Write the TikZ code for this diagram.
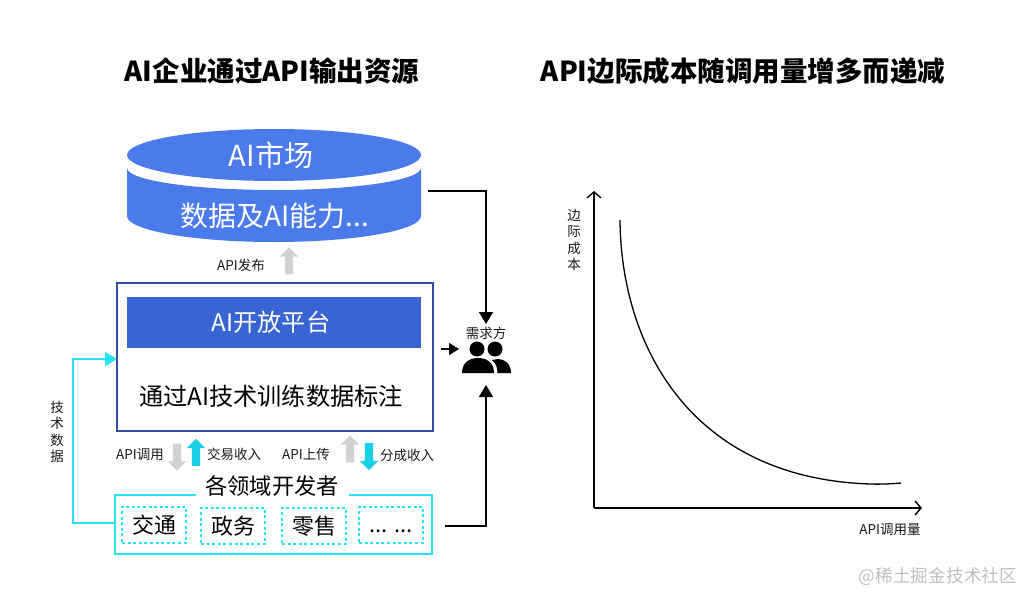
\documentclass[tikz,border=0pt]{standalone}
\usepackage{fontspec}
\setmainfont{Noto Sans CJK SC}
\usetikzlibrary{arrows.meta,shapes.arrows}
\definecolor{cylblue}{HTML}{4B7BEA}
\definecolor{platblue}{HTML}{3865D1}
\definecolor{edgeblue}{HTML}{2F4FA0}
\definecolor{devcyan}{HTML}{25E2F5}
\definecolor{flowcyan}{HTML}{1CCFE8}
\definecolor{flowgray}{HTML}{D2D2D2}
\newcommand{\pxfont}[1]{\fontsize{#1}{#1}\selectfont}
\tikzset{
    title/.style = {font=\pxfont{27.5}\bfseries, inner sep=0pt},
    big/.style = {font=\pxfont{28}, inner sep=0pt, text=white},
    mid/.style = {font=\pxfont{24.2}, inner sep=0pt},
    small/.style = {font=\pxfont{13.5}, inner sep=0pt, text=black!90},
    stacked/.style = {small, align=center, font=\fontsize{13.5}{16.5}\selectfont},
    fieldbox/.style = {draw=devcyan, dash pattern=on 3pt off 2.6pt, line width=1.3pt, minimum width=64pt, minimum height=36pt, inner sep=0pt, font=\pxfont{22}},
    flow/.style = {single arrow, single arrow head extend=5pt, single arrow head indent=0pt, minimum width=18pt, minimum height=27pt, inner sep=4pt, draw=none},
    person/.style = {circle, fill=black, minimum size=15pt, inner sep=0pt},
    link/.style = {line width=1.4pt, -{Triangle[width=14pt,length=12pt]}},
    axisline/.style = {line width=1.4pt, -{Straight Barb[width=14pt,length=6pt,line width=1.4pt]}}
}
\begin{document}
\begin{tikzpicture}[x=1pt, y=-1pt]
    \useasboundingbox (0,0) rectangle (1024,594);

    \node[title] (lefttitle) at (272,71) {AI企业通过API输出资源};
    \node[title] (righttitle) at (743,71) {API边际成本随调用量增多而递减};

    % market cylinder
    \fill[cylblue] (127,168) arc[start angle=180, end angle=0, x radius=147, y radius=22]
        -- (421,216) arc[start angle=0, end angle=180, x radius=147, y radius=26] -- cycle;
    \fill[cylblue] (274,155) ellipse[x radius=147, y radius=26];
    \node[big, font=\pxfont{29}] (market) at (271,155) {AI市场};
    \node[big] (resource) at (275,216) {数据及AI能力...};

    \node[small] (publish) at (241,265) {API发布};
    \node[flow, fill=flowgray, rotate=90] (publisharrow) at (289,263) {};

    % platform
    \node[draw=edgeblue, line width=1.5pt, minimum width=316pt, minimum height=148pt, inner sep=0pt] (platform) at (275,357) {};
    \node[fill=platblue, minimum width=294pt, minimum height=51pt, inner sep=0pt, text=white, font=\pxfont{24.2}] (open) at (271,327) [minimum width=0pt, minimum height=0pt, fill=none] {};
    \node[fill=platblue, minimum width=294pt, minimum height=51pt, inner sep=0pt, text=white, font=\pxfont{24.2}] (openbar) at (274,322.5) {\hspace{-6pt}AI开放平台};
    \node[mid] (train) at (271,396) {通过AI技术训练数据标注};

    % flows between platform and developers
    \node[small] (call) at (140,455) {API调用};
    \node[flow, fill=flowgray, rotate=-90] (callarrow) at (177,455) {};
    \node[flow, fill=flowcyan, rotate=90] (tradearrow) at (196,454.5) {};
    \node[small] (trade) at (234,454) {交易收入};
    \node[small] (upload) at (306,454) {API上传};
    \node[flow, fill=flowgray, rotate=90] (uploadarrow) at (350,451) {};
    \node[flow, fill=flowcyan, rotate=-90] (sharearrow) at (369,454.5) {};
    \node[small] (share) at (407,455) {分成收入};

    % developers
    \node[draw=devcyan, line width=1.6pt, minimum width=317pt, minimum height=59pt, inner sep=0pt] (devbox) at (273.5,524.5) {};
    \node[fill=white, minimum width=153pt, minimum height=20pt, inner sep=0pt, font=\pxfont{22.3}] (dev) at (272,486) {各领域开发者};
    \node[fieldbox] (traffic) at (154,525) {交通};
    \node[fieldbox] (gov) at (233,526) {政务};
    \node[fieldbox] (retail) at (314,526) {零售};
    \node[fieldbox, text height=16pt, text depth=2pt] (more) at (391,525) {... ...};

    % demand side
    \node[small] (demand) at (486,333) {需求方};
    \node[person] (headone) at (477,349) {};
    \node[person] (headtwo) at (495,349) {};
    \fill[black] (462,373) .. controls (462,362) and (470,358) .. (478,358)
        .. controls (486,358) and (494,362) .. (494,373) -- cycle;
    \fill[black] (498,359) .. controls (505,359) and (511,364) .. (511,373) -- (497.5,373)
        .. controls (497.5,368) and (496,363) .. (492,360) -- cycle;

    \coordinate (marketout) at (428,191);
    \coordinate (demandtop) at (486,324);
    \coordinate (platout) at (441,349);
    \coordinate (demandleft) at (459,349);
    \coordinate (devout) at (445,526);
    \coordinate (demandlow) at (486,385);
    \coordinate (platin) at (117,359);

    \draw[link] (marketout) -| (demandtop);
    \draw[link, -{Triangle[width=12pt,length=10pt]}] (platout) -- (demandleft);
    \draw[link] (devout) -| (demandlow);
    \draw[link, draw=devcyan, -{Triangle[width=14pt,length=12pt,fill=devcyan]}] (devbox.west |- 0,523) -- (73,523) |- (platin);

    \node[stacked] (techdata) at (57,432) {技\\术\\数\\据};

    % cost curve
    \coordinate (origin) at (594,508);
    \coordinate (ytop) at (594,191);
    \coordinate (xend) at (922,508);
    \draw[axisline] (origin) -- (ytop);
    \draw[axisline] (origin) -- (xend);
    \draw[line width=1.3pt] (620,220) .. controls (621,345) and (690,478) .. (870,484) .. controls (880,484.3) and (890,484) .. (901,483);
    \node[stacked] (ylabel) at (574,240) {边\\际\\成\\本};
    \node[small] (xlabel) at (890,530) {API调用量};

    \node[font=\pxfont{17.7}, text=black!25, inner sep=0pt] (mark) at (938,577) {@稀土掘金技术社区};
\end{tikzpicture}
\end{document}
